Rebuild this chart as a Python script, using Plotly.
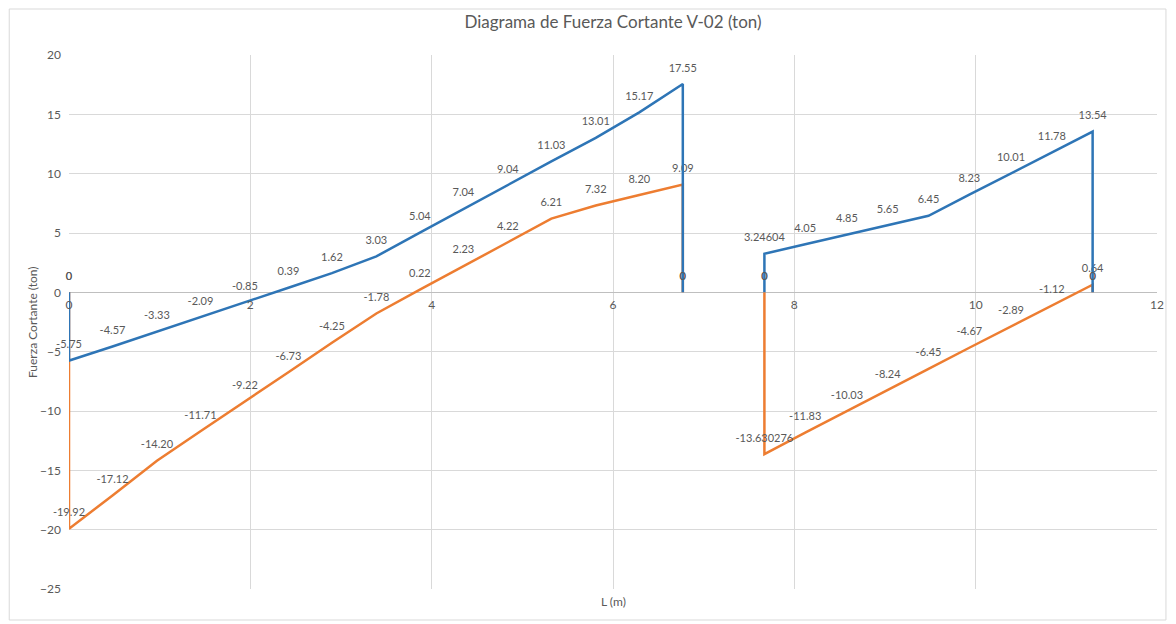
import plotly.graph_objects as go

# ---- data ----
x_span1 = [0, 0, 0.48, 0.97, 1.45, 1.94, 2.42, 2.90, 3.39, 3.87, 4.35, 4.84, 5.32, 5.81, 6.29, 6.77, 6.77]
x_span2 = [7.67, 7.67, 8.12, 8.58, 9.03, 9.48, 9.93, 10.39, 10.84, 11.29, 11.29]

blue_span1 = [0, -5.75, -4.57, -3.33, -2.09, -0.85, 0.39, 1.62, 3.03, 5.04, 7.04, 9.04, 11.03, 13.01, 15.17, 17.55, 0]
blue_span2 = [0, 3.24604, 4.05, 4.85, 5.65, 6.45, 8.23, 10.01, 11.78, 13.54, 0]

orange_span1 = [0, -19.92, -17.12, -14.20, -11.71, -9.22, -6.73, -4.25, -1.78, 0.22, 2.23, 4.22, 6.21, 7.32, 8.20, 9.09, 0]
orange_span2 = [0, -13.630276, -11.83, -10.03, -8.24, -6.45, -4.67, -2.89, -1.12, 0.64, 0]

x_ticks = [0, 2, 4, 6, 8, 10, 12]
y_ticks = [-25, -20, -15, -10, -5, 0, 5, 10, 15, 20]

title_text = "Diagrama de Fuerza Cortante V-02 (ton)"
x_title = "L (m)"
y_title = "Fuerza Cortante (ton)"

BLUE = "#2E75B6"
ORANGE = "#ED7D31"
GREY = "#595959"
GRID = "#D9D9D9"
FONT = "Lato"


def label(v):
    if v == 0:
        return "0"
    s = repr(v)
    if "." in s and len(s.split(".")[1]) > 2:
        return s
    return f"{v:.2f}"


def join(a, b):
    return a + [None] + b


xs = join(x_span1, x_span2)
fig = go.Figure()
for name, ys, color in [("Envolvente mínima", join(orange_span1, orange_span2), ORANGE),
                        ("Envolvente máxima", join(blue_span1, blue_span2), BLUE)]:
    fig.add_trace(go.Scatter(
        x=xs, y=ys, mode="lines+markers+text", name=name,
        line=dict(color=color, width=2.5),
        marker=dict(size=14, color="rgba(0,0,0,0)"),
        text=[label(v) if v is not None else "" for v in ys],
        textposition="top center",
        textfont=dict(family=FONT, size=11, color=GREY),
        connectgaps=False, cliponaxis=False, showlegend=False, hoverinfo="x+y",
    ))

W, H = 1168, 616
L, T = 61, 47
R, B = 15, 35
pw, ph = W - L - R, H - T - B


def px_x(p):
    return (p - L) / pw


def px_y(p):
    return (H - B - p) / ph


fig.update_layout(
    width=W, height=H,
    margin=dict(l=L, r=R, t=T, b=B),
    paper_bgcolor="white", plot_bgcolor="white",
    font=dict(family=FONT, color=GREY, size=12),
    title=dict(text=title_text, x=0.5, xref="paper", y=1 - 14 / H, yanchor="middle",
               font=dict(family=FONT, size=17, color=GREY)),
    xaxis=dict(range=[0, 12], tickvals=x_ticks, showgrid=True, gridcolor=GRID,
               zeroline=False, showline=False, anchor="free", position=25 / 45,
               tickfont=dict(family=FONT, size=12, color=GREY), ticks="",
               ticklabelstandoff=4),
    yaxis=dict(range=[-25, 20], tickvals=y_ticks, showgrid=True, gridcolor=GRID,
               zeroline=True, zerolinecolor="#BFBFBF", zerolinewidth=1,
               showline=False, tickfont=dict(family=FONT, size=12, color=GREY),
               ticks="", ticklabelstandoff=7),
    annotations=[
        dict(text=x_title, x=0.5, y=-0.0225, xref="paper", yref="paper",
             showarrow=False, yanchor="middle", font=dict(family=FONT, size=12, color=GREY)),
        dict(text=y_title, x=-0.034, y=0.5, xref="paper", yref="paper", textangle=-90,
             showarrow=False, xanchor="center", yanchor="middle",
             font=dict(family=FONT, size=12, color=GREY)),
    ],
    shapes=[dict(type="rect", xref="paper", yref="paper",
                 x0=px_x(1), x1=px_x(W - 6), y0=px_y(H - 4), y1=px_y(1),
                 line=dict(color=GRID, width=1), layer="below")],
)

fig.write_html("out.html")
